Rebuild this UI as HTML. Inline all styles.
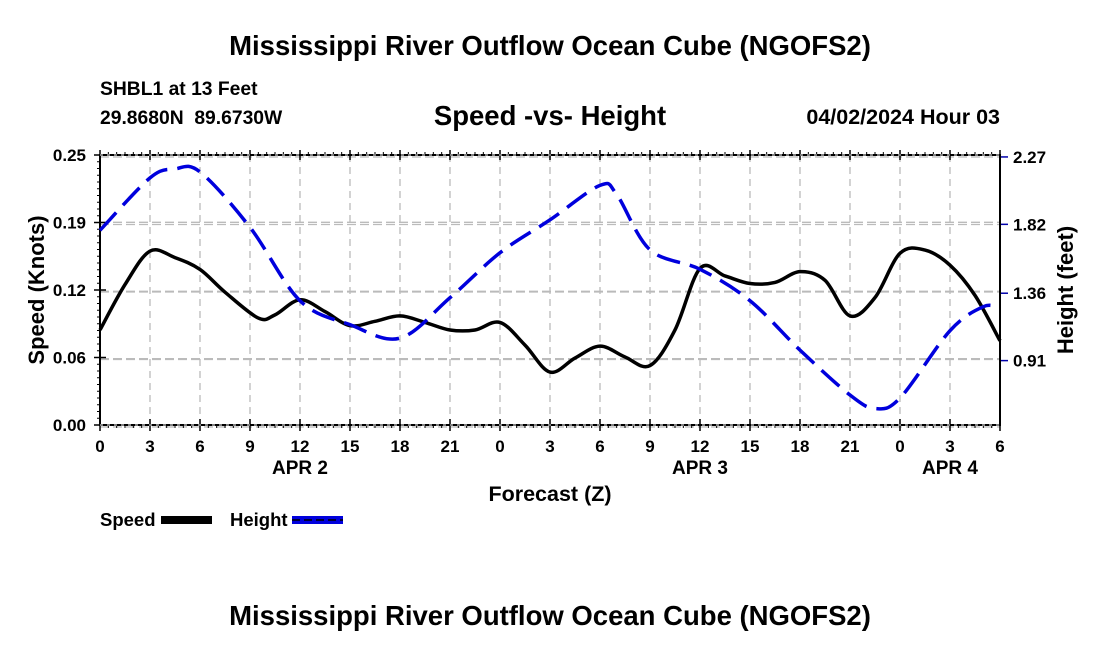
<!DOCTYPE html>
<html><head><meta charset="utf-8"><style>
body{margin:0;background:#fff;width:1100px;height:650px;overflow:hidden}
svg text{font-family:"Liberation Sans",sans-serif;font-weight:bold;fill:#000;white-space:pre}
</style></head><body>
<svg id="chart" width="1100" height="650" xmlns="http://www.w3.org/2000/svg">
<text x="550" y="55" font-size="27.5" text-anchor="middle">Mississippi River Outflow Ocean Cube (NGOFS2)</text>
<text x="100" y="95" font-size="19.3">SHBL1 at 13 Feet</text>
<text x="100" y="124" font-size="19.3" xml:space="preserve">29.8680N  89.6730W</text>
<text x="550" y="125" font-size="27.5" text-anchor="middle">Speed -vs- Height</text>
<text x="1000" y="124" font-size="21.5" text-anchor="end">04/02/2024 Hour 03</text>
<g id="grid"></g>
<g id="axes"></g>
<g id="series"></g>
<text transform="translate(44,290) rotate(-90)" font-size="22" text-anchor="middle">Speed (Knots)</text>
<text transform="translate(1073,290) rotate(-90)" font-size="22" text-anchor="middle">Height (feet)</text>
<text x="550" y="501" font-size="21.5" text-anchor="middle">Forecast (Z)</text>
<text x="300" y="474" font-size="19" text-anchor="middle">APR 2</text>
<text x="700" y="474" font-size="19" text-anchor="middle">APR 3</text>
<text x="950" y="474" font-size="19" text-anchor="middle">APR 4</text>
<g>
<text x="100" y="526" font-size="18.5">Speed</text>
<rect x="161" y="516" width="51" height="8" fill="#000"/>
</g>
<g>
<text x="230" y="526" font-size="18.5">Height</text>
<rect x="292" y="516" width="51" height="8" fill="#0000dd"/>
<line x1="292" y1="520" x2="343" y2="520" stroke="#000" stroke-width="1.5" stroke-dasharray="8,4"/>
</g>
<text x="550" y="625" font-size="27.5" text-anchor="middle">Mississippi River Outflow Ocean Cube (NGOFS2)</text>
</svg>
<script>
const xTickLabels=["0","3","6","9","12","15","18","21","0","3","6","9","12","15","18","21","0","3","6"];
const speedTicks=[0,0.0625,0.125,0.1875,0.25];
const speedTickLabels=["0.00","0.06","0.12","0.19","0.25"];
const heightTicks=[0.91,1.36,1.82,2.27];
const heightTickLabels=["0.91","1.36","1.82","2.27"];
const speedHours=[0,1.5,3,4.5,6,7.5,9.5,10.5,12,13.5,15,16.5,18,19.5,21,22.5,24,25.5,27,28.5,30,31.5,33,34.5,36,37.5,39,40.5,42,43.5,45,46.5,48,49.5,51,52.5,54];
const speedValues=[0.088,0.130,0.161,0.155,0.144,0.123,0.099,0.102,0.116,0.105,0.092,0.096,0.101,0.095,0.088,0.088,0.095,0.074,0.049,0.062,0.073,0.063,0.055,0.088,0.145,0.138,0.131,0.132,0.142,0.134,0.101,0.118,0.159,0.162,0.148,0.120,0.078];
const heightHours=[0,3,4.5,6,9,12,15,18,21,24,27,30,31,33,36,39,42,45,46.5,48,51,53,54];
const heightValues=[1.78,2.13,2.19,2.17,1.80,1.31,1.15,1.06,1.33,1.63,1.85,2.08,2.02,1.65,1.52,1.31,0.98,0.68,0.59,0.66,1.11,1.27,1.26];
const L=100,R=1000,T=155,B=425;
const x=h=>L+(h/54)*(R-L);
const yS=v=>B-(v/0.25)*(B-T);
const yH=v=>B-((v-0.48)/(2.283-0.48))*(B-T);
const NS="http://www.w3.org/2000/svg";
function mk(tag,attrs,parent){const e=document.createElementNS(NS,tag);for(const k in attrs)e.setAttribute(k,attrs[k]);document.getElementById(parent).appendChild(e);return e;}
xTickLabels.forEach((t,i)=>{const X=x(i*3);
 const g=mk('line',{x1:X,x2:X,y1:T,y2:B,stroke:'#bbb','stroke-width':1.3,'stroke-dasharray':'7,5'},'grid');
 
 
 const tk=mk('line',{x1:X,x2:X,y1:B-6,y2:B+6,stroke:'#000','stroke-width':1.5},'axes');
 
 
 mk('line',{x1:X,x2:X,y1:T-5,y2:T+5,stroke:'#000','stroke-width':1.5},'axes');
 const tx=mk('text',{x:X,y:B+27,'font-size':17,'text-anchor':'middle'},'axes');tx.textContent=t;
 
 
});
speedTicks.forEach((v,i)=>{const Y=yS(v);
 const g=mk('line',{x1:L,x2:R,y1:Y+2,y2:Y+2,stroke:'#bbb','stroke-width':1.3,'stroke-dasharray':'9,4'},'grid');
 
 
 mk('line',{x1:L-6,x2:L+6,y1:Y,y2:Y,stroke:'#000','stroke-width':1.5},'axes');
 const tx=mk('text',{x:L-14,y:Y+6,'font-size':17,'text-anchor':'end'},'axes');tx.textContent=speedTickLabels[i];
 
 
});
for(let k=0;k<=40;k++){const Y=yS(k*0.25/40);mk('line',{x1:L-3,x2:L,y1:Y,y2:Y,stroke:'#000','stroke-width':1},'axes');}
for(let k=0;k<=108;k++){const X=x(k*0.5);mk('line',{x1:X,x2:X,y1:B,y2:B+3,stroke:'#000','stroke-width':1},'axes');mk('line',{x1:X,x2:X,y1:T-3,y2:T,stroke:'#000','stroke-width':1},'axes');}
heightTicks.forEach((v,i)=>{const Y=yH(v);
 const g=mk('line',{x1:L,x2:R,y1:Y-2,y2:Y-2,stroke:'#bbb','stroke-width':1.3,'stroke-dasharray':'9,4'},'grid');
 
 
 mk('line',{x1:R,x2:R+8,y1:Y,y2:Y,stroke:'#0000aa','stroke-width':1.5},'axes');
 const tx=mk('text',{x:R+13,y:Y+6,'font-size':17},'axes');tx.textContent=heightTickLabels[i];
 
 
});
mk('rect',{x:L,y:T,width:R-L,height:B-T,fill:'none',stroke:'#000','stroke-width':2},'axes');
mk('line',{x1:L,x2:R,y1:T,y2:T,stroke:'#fff','stroke-width':1,'stroke-dasharray':'3,4'},'axes');
mk('line',{x1:L,x2:R,y1:B,y2:B,stroke:'#fff','stroke-width':1,'stroke-dasharray':'3,4'},'axes');
function smooth(pts){let d=`M${pts[0][0]},${pts[0][1]}`;for(let i=0;i<pts.length-1;i++){const p0=pts[Math.max(0,i-1)],p1=pts[i],p2=pts[i+1],p3=pts[Math.min(pts.length-1,i+2)];
 d+=` C${p1[0]+(p2[0]-p0[0])/6},${p1[1]+(p2[1]-p0[1])/6} ${p2[0]-(p3[0]-p1[0])/6},${p2[1]-(p3[1]-p1[1])/6} ${p2[0]},${p2[1]}`;}return d;}
const sp=mk('path',{d:smooth(speedHours.map((h,i)=>[x(h),yS(speedValues[i])])),fill:'none',stroke:'#000','stroke-width':3.5},'series');


const hp=mk('path',{d:smooth(heightHours.map((h,i)=>[x(h),yH(heightValues[i])])),fill:'none',stroke:'#0000dd','stroke-width':3.5,'stroke-dasharray':'24,10'},'series');


</script>
</body></html>
